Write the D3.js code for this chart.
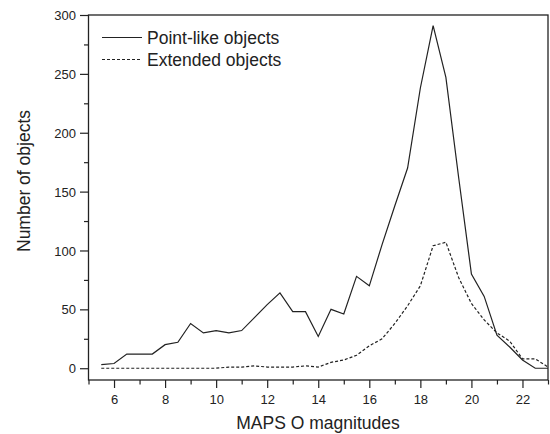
<!DOCTYPE html>
<html>
<head>
<meta charset="utf-8">
<script src="https://cdn.jsdelivr.net/npm/d3@7/dist/d3.min.js"></script>
<style>
  body { margin: 0; background: #fff; }
  text { font-family: "Liberation Sans", Arial, sans-serif; fill: #222; }
</style>
</head>
<body>
<svg id="chart" width="550" height="434"></svg>
<script>
'use strict';

/* Data: counts per half-magnitude bin */
var magnitudes = [5.5, 6, 6.5, 7, 7.5, 8, 8.5, 9, 9.5, 10, 10.5, 11, 11.5, 12, 12.5,
  13, 13.5, 14, 14.5, 15, 15.5, 16, 16.5, 17, 17.5, 18, 18.5, 19, 19.5, 20,
  20.5, 21, 21.5, 22, 22.5, 23];
var pointLike = [3, 4, 12, 12, 12, 20, 22, 38, 30, 32, 30, 32, 43, 54, 64,
  48, 48, 27, 50, 46, 78, 70, 105, 138, 170, 238, 291, 247, 162, 80,
  61, 28, 18, 7, 0, 0];
var extended = [0, 0, 0, 0, 0, 0, 0, 0, 0, 0, 1, 1, 2, 1, 1,
  1, 2, 1, 5, 7, 11, 19, 25, 38, 53, 70, 104, 107, 77, 55,
  41, 30, 23, 8, 8, 1];
var xTickLabels = [6, 8, 10, 12, 14, 16, 18, 20, 22];
var yTickLabels = [0, 50, 100, 150, 200, 250, 300];
var seriesNames = ['Point-like objects', 'Extended objects'];

var svg = d3.select('#chart'),
    plotLeft = 88.5, plotRight = 548, plotTop = 15, plotBottom = 380;

var x = d3.scaleLinear().domain([5, 23]).range([plotLeft, plotRight]),
    y = d3.scaleLinear().domain([-10, 300]).range([plotBottom, plotTop]);

/* frame */
svg.append('rect')
  .attr('x', plotLeft).attr('y', plotTop)
  .attr('width', plotRight - plotLeft).attr('height', plotBottom - plotTop)
  .style('fill', 'none').style('stroke', '#222').style('stroke-width', 1.3);

/* bottom axis: labelled even ticks, short odd ticks */
var xAxis = svg.append('g').attr('transform', 'translate(0,' + plotBottom + ')');
xAxis.call(d3.axisBottom(x).tickValues(d3.range(5, 24, 1))
    .tickSize(4.5).tickFormat(''));
xAxis.call(function (g) {
  g.select('.domain').remove();
  g.selectAll('.tick line').filter(function (d) { return d % 2 === 0; })
    .attr('y2', 8);
});
xAxis.selectAll('.tick').filter(function (d) { return xTickLabels.indexOf(d) >= 0; })
  .append('text')
  .attr('y', 23.5).attr('text-anchor', 'middle')
  .style('font-size', '13px')
  .text(function (d) { return d; });

/* left axis */
var yAxis = svg.append('g').attr('transform', 'translate(' + plotLeft + ',0)');
yAxis.call(d3.axisLeft(y).tickValues(d3.range(0, 301, 25))
    .tickSize(4.5).tickFormat(''));
yAxis.call(function (g) {
  g.select('.domain').remove();
  g.selectAll('.tick line').filter(function (d) { return d % 50 === 0; })
    .attr('x2', -8.5);
});
yAxis.selectAll('.tick').filter(function (d) { return yTickLabels.indexOf(d) >= 0; })
  .append('text')
  .attr('x', -12.5).attr('dy', '0.35em').attr('text-anchor', 'end')
  .style('font-size', '13px')
  .text(function (d) { return d; });

svg.selectAll('.tick line').style('stroke', '#222').style('stroke-width', 1.2);

/* axis titles */
svg.append('text')
  .attr('x', 318).attr('y', 429)
  .attr('text-anchor', 'middle')
  .style('font-size', '17.5px')
  .text('MAPS O magnitudes');

svg.append('text')
  .attr('transform', 'translate(30,181) rotate(-90)')
  .attr('text-anchor', 'middle')
  .style('font-size', '17.5px')
  .text('Number of objects');

/* series */
var line = d3.line()
  .x(function (d) { return x(d[0]); })
  .y(function (d) { return y(d[1]); });

var series = [
  { name: seriesNames[0], values: d3.zip(magnitudes, pointLike), dash: null },
  { name: seriesNames[1], values: d3.zip(magnitudes, extended), dash: '3,2' }
];

svg.selectAll('path.series')
  .data(series)
  .enter().append('path')
  .attr('class', 'series')
  .attr('d', function (d) { return line(d.values); })
  .style('fill', 'none')
  .style('stroke', '#222')
  .style('stroke-width', 1.2)
  .style('stroke-dasharray', function (d) { return d.dash; });

/* legend */
var legend = svg.selectAll('g.legend')
  .data(series)
  .enter().append('g')
  .attr('class', 'legend')
  .attr('transform', function (d, i) { return 'translate(102,' + (37.5 + i * 22) + ')'; });

legend.append('line')
  .attr('x1', 0).attr('x2', 40)
  .style('stroke', '#222').style('stroke-width', 1.2)
  .style('stroke-dasharray', function (d) { return d.dash; });

legend.append('text')
  .attr('x', 45).attr('dy', '0.36em')
  .style('font-size', '17.5px')
  .text(function (d) { return d.name; });
</script>
</body>
</html>
